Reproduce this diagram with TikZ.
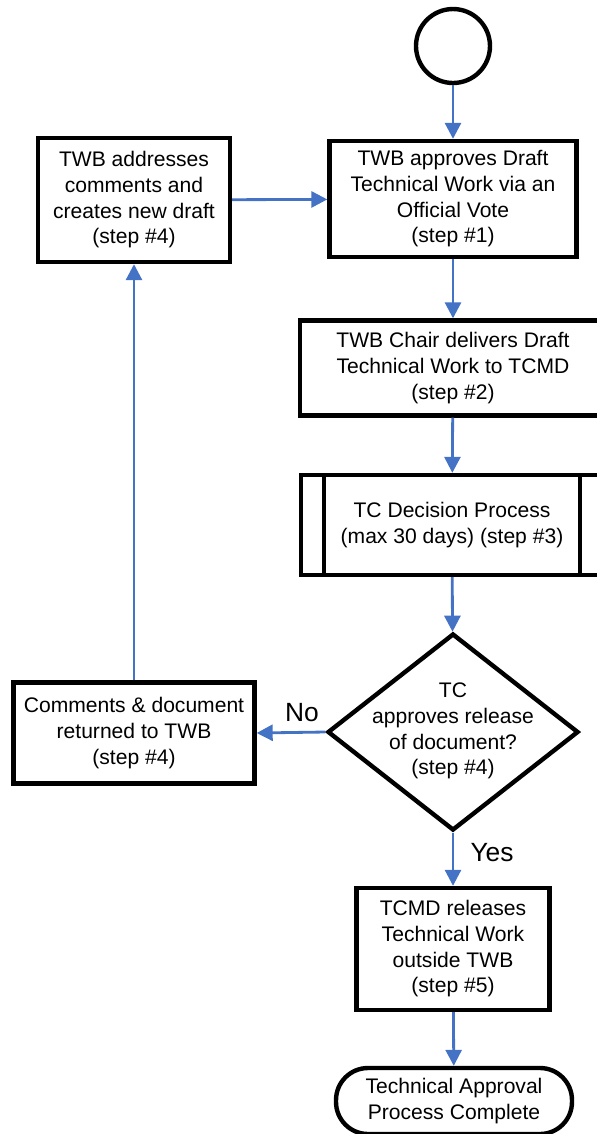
\documentclass[tikz,border=0pt]{standalone}
\usepackage{fontspec}
\setmainfont{Liberation Sans}
\usetikzlibrary{shapes.geometric,arrows.meta}
\definecolor{flowblue}{RGB}{68,114,196}
\tikzset{
	box/.style={draw, line width=2.5pt, align=center, inner sep=0pt, font=\fontsize{12}{14.6}\selectfont},
	flow/.style={draw=flowblue, line width=1.6pt, -{Triangle[length=0.32cm,width=0.32cm]}}
}
\begin{document}
\begin{tikzpicture}[x=0.02cm,y=-0.02cm]
\useasboundingbox (0,0) rectangle (596,1134);

\node[box,circle,minimum size=1.48cm] (start) at (453,46) {};

\node[box,minimum width=4.94cm,minimum height=2.32cm] (vote) at (453,199)
	{TWB approves Draft\\Technical Work via an\\Official Vote\\(step \#1)};
\node[box,minimum width=3.84cm,minimum height=2.48cm] (redraft) at (134,200)
	{TWB addresses\\comments and\\creates new draft\\(step \#4)};
\node[box,minimum width=6.12cm,minimum height=1.9cm] (deliver) at (453,368)
	{TWB Chair delivers Draft\\Technical Work to TCMD\\(step \#2)};
\node[box,minimum width=6.04cm,minimum height=2cm] (tcproc) at (452,525)
	{TC Decision Process\\(max 30 days) (step \#3)};
\draw[line width=2.5pt] (tcproc.north west) ++(25,0) -- ++(0,100);
\draw[line width=2.5pt] (tcproc.north east) ++(-25,0) -- ++(0,100);

\node[box,diamond,minimum width=5.02cm,minimum height=3.94cm] (decide) at (453,732) {};
\node[align=center,font=\fontsize{12}{14.6}\selectfont] (decidetext) at (453,731)
	{TC\\approves release\\of document?\\(step \#4)};
\node[box,minimum width=4.82cm,minimum height=2.02cm] (returned) at (134,733)
	{Comments \& document\\returned to TWB\\(step \#4)};
\node[box,minimum width=3.86cm,minimum height=2.44cm] (release) at (453,949)
	{TCMD releases\\Technical Work\\outside TWB\\(step \#5)};
\node[box,minimum width=4.72cm,minimum height=1.32cm,rounded corners=0.64cm] (done) at (454,1101)
	{Technical Approval\\Process Complete};

\draw[flow] (start) -- (vote);
\draw[flow] (vote) -- (deliver);
\draw[flow] (deliver) -- (tcproc);
\draw[flow] (tcproc) -- (decide);
\draw[flow] (decide.west) -- (returned.east);
\draw[flow] (returned) -- (redraft);
\draw[flow] (redraft) -- (vote);
\draw[flow] (decide.south) -- (release.north);
\draw[flow] (release) -- (done);

\node[font=\fontsize{15}{18}\selectfont] (nolabel) at (302,713) {No};
\node[font=\fontsize{15}{18}\selectfont] (yeslabel) at (492,853) {Yes};
\end{tikzpicture}
\end{document}
